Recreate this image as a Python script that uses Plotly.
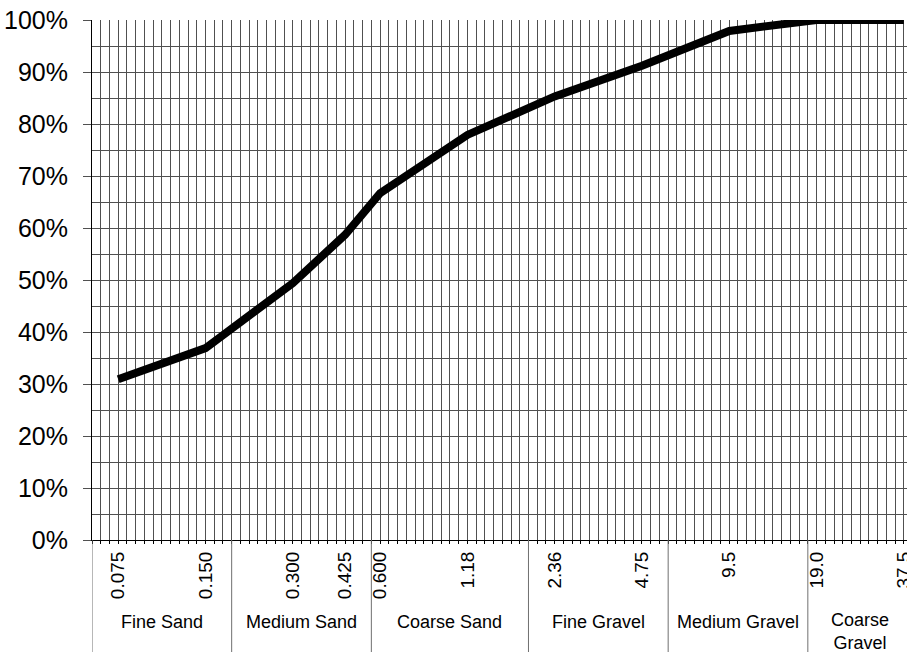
import plotly.graph_objects as go

# ---- data ----
sieve_labels = ["0.075", "0.150", "0.300", "0.425", "0.600", "1.18", "2.36", "4.75", "9.5", "19.0", "37.5"]
sieve_slot = [3, 13, 23, 29, 33, 43, 53, 63, 73, 83, 93]          # category slot on the grading grid
percent_passing = [0.309, 0.369, 0.494, 0.587, 0.667, 0.779, 0.853, 0.912, 0.979, 1.0, 1.0]

group_names = ["Fine Sand", "Medium Sand", "Coarse Sand", "Fine Gravel", "Medium Gravel", "Coarse<br>Gravel"]
group_bounds = [0, 16, 32, 50, 66, 82, 94]

N_SLOTS = 94
FONT = "Liberation Sans, Arial, sans-serif"
GRID = "#505050"

fig = go.Figure()
fig.add_trace(go.Scatter(
    x=sieve_slot, y=percent_passing, mode="lines",
    line=dict(color="black", width=8),
    cliponaxis=False, hoverinfo="skip", showlegend=False,
))

ticktext = []
for s in range(N_SLOTS):
    ticktext.append(sieve_labels[sieve_slot.index(s)] if s in sieve_slot else "")

fig.update_xaxes(
    range=[0, 93.36], showgrid=True, gridcolor=GRID, gridwidth=1,
    tickmode="array", tickvals=list(range(N_SLOTS)), ticktext=ticktext,
    tickangle=-90, ticks="outside", ticklen=3, tickcolor="black",
    tickfont=dict(family=FONT, size=19, color="black"),
    ticklabeloverflow="allow",
    showline=True, linecolor="black", linewidth=1, zeroline=False,
    automargin=False,
)
fig.update_yaxes(
    range=[0, 1], dtick=0.1, tickformat=".0%", showgrid=True, gridcolor=GRID,
    ticks="outside", ticklen=8, tickcolor=GRID,
    tickfont=dict(family=FONT, size=25, color="black"),
    ticklabelstandoff=10,
    showline=True, linecolor="black", linewidth=1, zeroline=False,
    minor=dict(dtick=0.05, showgrid=True, gridcolor=GRID, ticks=""),
    automargin=False,
)

# group separators and labels below the axis
for i, name in enumerate(group_names):
    b0 = group_bounds[i]
    fig.add_shape(type="line", xref="x", yref="paper", x0=b0, x1=b0, y0=0, y1=-112 / 520,
                  line=dict(color="#707070", width=1))
    two = "<br>" in name
    fig.add_annotation(
        x=(b0 + group_bounds[i + 1]) / 2, xref="x", y=0, yref="paper",
        yshift=-91.5 if two else -81.7, yanchor="middle", xanchor="center",
        text=name, showarrow=False,
        font=dict(family=FONT, size=18, color="black"),
    )

fig.update_layout(
    width=907, height=652,
    margin=dict(l=92, r=0, t=20, b=112),
    paper_bgcolor="white", plot_bgcolor="white",
    showlegend=False,
)

fig.write_html("out.html", config={"displayModeBar": False},
               post_script="document.body.style.margin='0';document.body.style.overflow='hidden';")
